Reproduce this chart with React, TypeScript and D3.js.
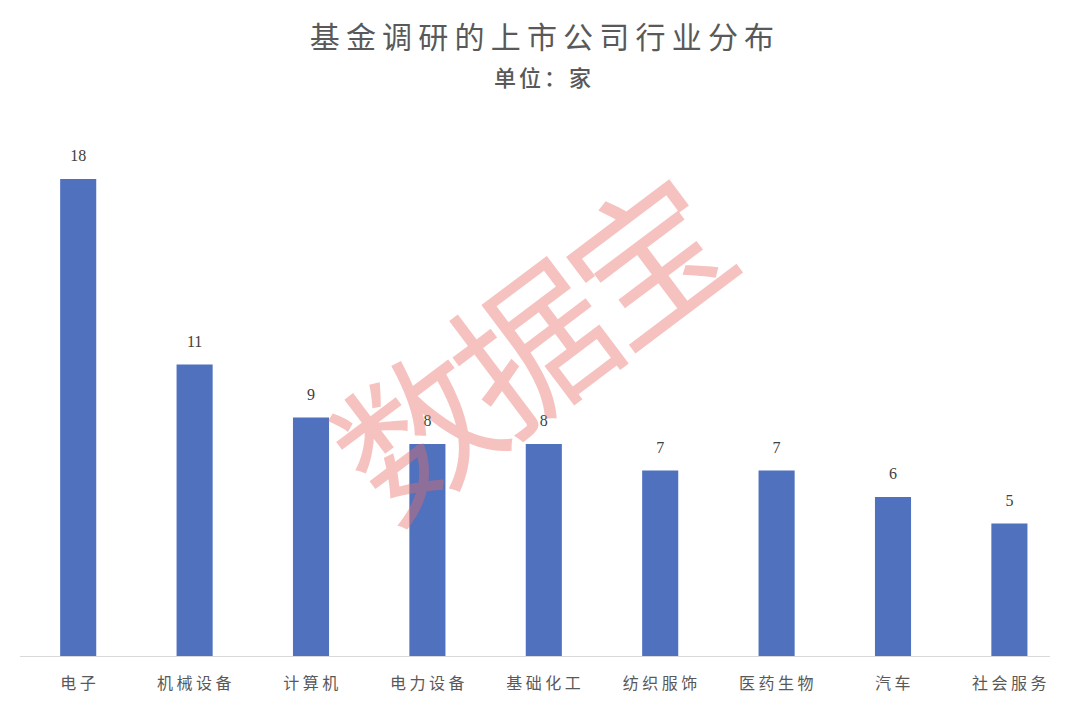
import React from "react";
import * as d3 from "d3";

const categories = ["电子", "机械设备", "计算机", "电力设备", "基础化工", "纺织服饰", "医药生物", "汽车", "社会服务"];
const values = [18, 11, 9, 8, 8, 7, 7, 6, 5];
const title = "基金调研的上市公司行业分布";
const subtitle = "单位：家";
const watermark = "数据宝";

export default function App() {
  const W = 1080, H = 705;
  const baseY = 656;
  const x = d3.scaleBand<string>().domain(categories).range([20, 1067.6]).paddingInner(0.69).paddingOuter(0.345);
  const y = d3.scaleLinear().domain([0, 18]).range([baseY, 179]);
  const cjk = "'Noto Sans CJK SC', 'Noto Sans', sans-serif";
  return (
    <svg width={W} height={H} style={{ position: "absolute", left: 0, top: 0, background: "#fff" }}>
      <rect x={0} y={0} width={W} height={H} fill="#fff" />
      <text x={545} y={48} textAnchor="middle" fontFamily={cjk} fontSize={30} letterSpacing={6.2} fill="#595959">{title}</text>
      <text x={544} y={86} textAnchor="middle" fontFamily={cjk} fontSize={22} letterSpacing={3} fill="#595959" fontWeight={500}>{subtitle}</text>
      <line x1={20} x2={1050} y1={baseY + 0.5} y2={baseY + 0.5} stroke="#d9d9d9" strokeWidth={1} />
      {categories.map((c, i) => (
        <g key={c}>
          <rect x={x(c)} y={y(values[i])} width={x.bandwidth()} height={baseY - y(values[i])} fill="#4f71be" />
          <text x={x(c)! + x.bandwidth() / 2} y={y(values[i]) - 18} textAnchor="middle" fontFamily="'Liberation Serif', serif" fontSize={16} fill="#404040">{values[i]}</text>
          <text x={x(c)! + x.bandwidth() / 2 + 1.5} y={689} textAnchor="middle" fontFamily={cjk} fontSize={16} letterSpacing={3.5} fill="#595959">{c}</text>
        </g>
      ))}
      <text x={524} y={343} textAnchor="middle" dominantBaseline="central" fontFamily={cjk} fontSize={155} letterSpacing={-10} fill="rgba(230,110,105,0.42)" transform="rotate(-37, 524, 343)">{watermark}</text>
    </svg>
  );
}
